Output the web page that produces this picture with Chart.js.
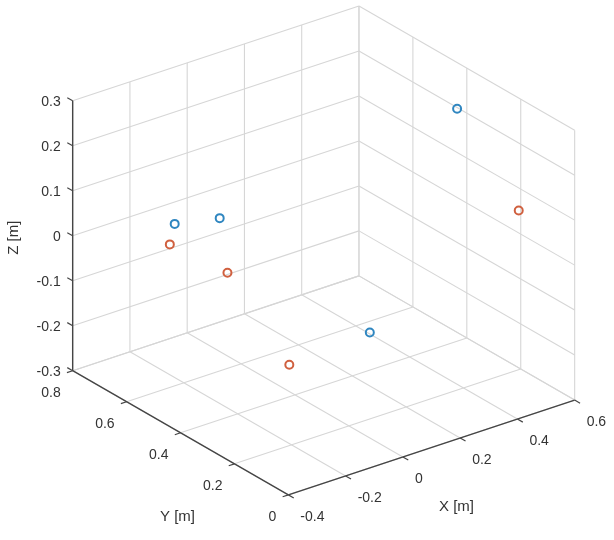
<!DOCTYPE html>
<html>
<head>
<meta charset="utf-8">
<script src="https://cdn.jsdelivr.net/npm/chart.js@4/dist/chart.umd.min.js"></script>
<style>
  html, body { margin: 0; padding: 0; background: #fff; }
  #wrap { width: 614px; height: 540px; position: relative; }
</style>
</head>
<body>
<div id="wrap"><canvas id="chart-3d"></canvas></div>
<script>
// ── Data (metres) ─────────────────────────────────────────────
const blueX = [-0.232, -0.169, 0.519, 0.167];
const blueY = [0.60, 0.50, 0.35, 0.30];
const blueZ = [0.060, 0.094, 0.244, -0.162];

const redX = [-0.249, -0.189, 0.593, -0.020];
const redY = [0.60, 0.45, 0.20, 0.40];
const redZ = [0.018, -0.006, 0.054, -0.229];

const xTicks = [-0.4, -0.2, 0, 0.2, 0.4, 0.6];
const yTicks = [0, 0.2, 0.4, 0.6, 0.8];
const zTicks = [-0.3, -0.2, -0.1, 0, 0.1, 0.2, 0.3];

const xTickLabels = ['-0.4', '-0.2', '0', '0.2', '0.4', '0.6'];
const yTickLabels = ['0', '0.2', '0.4', '0.6', '0.8'];
const zTickLabels = ['-0.3', '-0.2', '-0.1', '0', '0.1', '0.2', '0.3'];

// ── View (orthographic, az -37.5 / el 30 look) ────────────────
const X_RANGE = [-0.4, 0.6];
const Y_RANGE = [0, 0.8];
const Z_RANGE = [-0.3, 0.3];
const ORIGIN = [288, 500];       // screen spot of (xmin, ymin, zmin)
const X_SPAN = [292, -97];       // screen vector over the whole X range
const Y_SPAN = [-220, -127];
const Z_SPAN = [0, -276];

function project(x, y, z) {
  const tx = (x - X_RANGE[0]) / (X_RANGE[1] - X_RANGE[0]);
  const ty = (y - Y_RANGE[0]) / (Y_RANGE[1] - Y_RANGE[0]);
  const tz = (z - Z_RANGE[0]) / (Z_RANGE[1] - Z_RANGE[0]);
  return {
    x: ORIGIN[0] + tx * X_SPAN[0] + ty * Y_SPAN[0] + tz * Z_SPAN[0],
    y: ORIGIN[1] + tx * X_SPAN[1] + ty * Y_SPAN[1] + tz * Z_SPAN[1],
  };
}

const GRID = '#d6d6d6';
const AXIS = '#454545';
const TEXT = '#333333';

function seg(a, b, color, width, order) {
  return {
    data: [project(...a), project(...b)],
    showLine: true,
    borderColor: color,
    borderWidth: width,
    pointRadius: 0,
    pointHoverRadius: 0,
    fill: false,
    clip: false,
    order,
  };
}

const [x0, x1] = X_RANGE, [y0, y1] = Y_RANGE, [z0, z1] = Z_RANGE;
const datasets = [];

// back wall at y = ymax
xTicks.forEach((x) => datasets.push(seg([x, y1, z0], [x, y1, z1], GRID, 1.1, 3)));
zTicks.forEach((z) => datasets.push(seg([x0, y1, z], [x1, y1, z], GRID, 1.1, 3)));
// back wall at x = xmax
yTicks.forEach((y) => datasets.push(seg([x1, y, z0], [x1, y, z1], GRID, 1.1, 3)));
zTicks.forEach((z) => datasets.push(seg([x1, y0, z], [x1, y1, z], GRID, 1.1, 3)));
// floor
xTicks.forEach((x) => datasets.push(seg([x, y0, z0], [x, y1, z0], GRID, 1.1, 3)));
yTicks.forEach((y) => datasets.push(seg([x0, y, z0], [x1, y, z0], GRID, 1.1, 3)));

// axes + tick marks
datasets.push(seg([x0, y0, z0], [x1, y0, z0], AXIS, 1.4, 2));
datasets.push(seg([x0, y0, z0], [x0, y1, z0], AXIS, 1.4, 2));
datasets.push(seg([x0, y1, z0], [x0, y1, z1], AXIS, 1.4, 2));
xTicks.forEach((x) => datasets.push(seg([x, y0, z0], [x, y0 - 0.02, z0], AXIS, 1.2, 2)));
yTicks.forEach((y) => datasets.push(seg([x0, y, z0], [x0 - 0.02, y, z0], AXIS, 1.2, 2)));
zTicks.forEach((z) => datasets.push(seg([x0, y1, z], [x0, y1 + 0.02, z], AXIS, 1.2, 2)));

// points
function pts(xs, ys, zs) {
  return xs.map((x, i) => project(x, ys[i], zs[i]));
}
datasets.push({
  label: 'Series 1',
  data: pts(blueX, blueY, blueZ),
  pointRadius: 4,
  pointBorderWidth: 2,
  borderColor: '#2f86c0',
  backgroundColor: 'rgba(255,255,255,0)',
  clip: false,
  order: 0,
});
datasets.push({
  label: 'Series 2',
  data: pts(redX, redY, redZ),
  pointRadius: 4,
  pointBorderWidth: 2,
  borderColor: '#d0603f',
  backgroundColor: 'rgba(255,255,255,0)',
  clip: false,
  order: 0,
});

// tick labels + axis titles drawn at projected positions
const axisText = {
  id: 'axisText',
  afterDatasetsDraw(chart) {
    const c = chart.ctx;
    const sx = chart.scales.x, sy = chart.scales.y;
    const px = (p) => [sx.getPixelForValue(p.x), sy.getPixelForValue(p.y)];

    c.save();
    c.fillStyle = TEXT;
    c.font = '14px "Liberation Sans", Arial, sans-serif';
    c.textBaseline = 'middle';

    c.textAlign = 'left';
    xTicks.forEach((x, i) => {
      const [u, v] = px(project(x, y0, z0));
      c.fillText(xTickLabels[i], u + 12, v + 22);
    });

    c.textAlign = 'right';
    yTicks.forEach((y, i) => {
      const [u, v] = px(project(x0, y, z0));
      c.fillText(yTickLabels[i], u - 12, v + 22);
    });
    zTicks.forEach((z, i) => {
      const [u, v] = px(project(x0, y1, z));
      c.fillText(zTickLabels[i], u - 12, v + 1);
    });

    c.textAlign = 'center';
    c.font = '15px "Liberation Sans", Arial, sans-serif';
    const [xu, xv] = px(project(0.1, y0, z0));
    c.fillText('X [m]', xu + 25, xv + 59);
    const [yu, yv] = px(project(x0, 0.4, z0));
    c.fillText('Y [m]', yu - 3, yv + 84);
    const [zu, zv] = px(project(x0, y1, 0));
    c.translate(zu - 59, zv + 2);
    c.rotate(-Math.PI / 2);
    c.fillText('Z [m]', 0, 0);
    c.restore();
  },
};

new Chart(document.getElementById('chart-3d').getContext('2d'), {
  type: 'scatter',
  data: { datasets },
  options: {
    responsive: true,
    maintainAspectRatio: false,
    animation: false,
    layout: { padding: 0 },
    plugins: {
      legend: { display: false },
      tooltip: { enabled: false },
    },
    scales: {
      x: { type: 'linear', min: 0, max: 614, display: false },
      y: { type: 'linear', min: 0, max: 540, reverse: true, display: false },
    },
  },
  plugins: [axisText],
});
</script>
</body>
</html>
